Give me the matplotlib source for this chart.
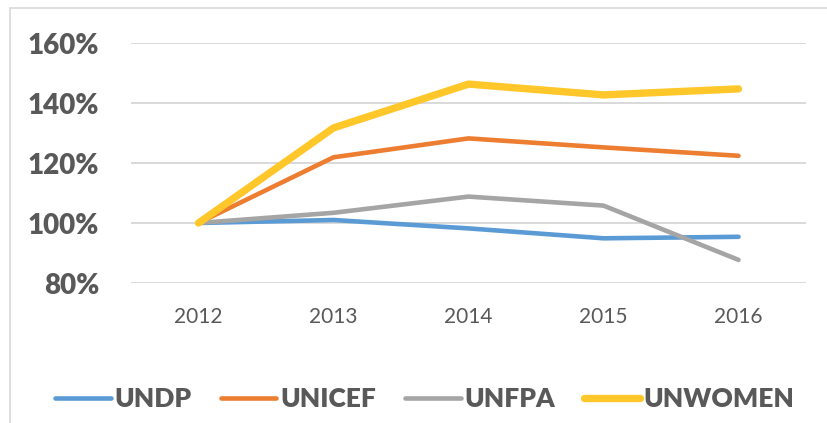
import matplotlib.pyplot as plt
from matplotlib.patches import Rectangle
from matplotlib.ticker import FuncFormatter

# Data (percent of 2012 level)
years = ['2012', '2013', '2014', '2015', '2016']
undp = [100, 101.0, 98.2, 94.9, 95.4]
unicef = [100, 121.9, 128.2, 125.2, 122.4]
unfpa = [100, 103.4, 108.8, 105.8, 87.7]
unwomen = [100, 131.7, 146.3, 142.7, 144.7]

series = [
    ('UNDP', undp, '#5b9bd5', 3.3),
    ('UNICEF', unicef, '#ed7d31', 3.3),
    ('UNFPA', unfpa, '#a5a5a5', 3.3),
    ('UNWOMEN', unwomen, '#ffc729', 5.3),
]

grey = '#595959'
W, H = 827, 423

fig = plt.figure(figsize=(W / 100, H / 100), dpi=100)
ax = fig.add_axes([131 / W, (H - 283) / H, (806 - 131) / W, (283 - 43) / H])

x = list(range(len(years)))
for name, vals, color, lw in series:
    ax.plot(x, vals, color=color, lw=lw, solid_capstyle='round',
            solid_joinstyle='round', label=name, zorder=3)

ax.set_xlim(-0.5, len(years) - 0.5)
ax.set_ylim(80, 160)
ax.set_yticks([80, 100, 120, 140, 160])
ax.yaxis.set_major_formatter(FuncFormatter(lambda v, p: f'{v:.0f}%'))
ax.set_xticks(x)
ax.set_xticklabels(years)

ax.grid(axis='y', color='#d9d9d9', lw=1.4, zorder=0)
for s in ax.spines.values():
    s.set_visible(False)
ax.tick_params(length=0)
ax.tick_params(axis='y', pad=23)
ax.tick_params(axis='x', pad=17)

for lab in ax.get_yticklabels():
    lab.set_family('Lato')
    lab.set_fontweight('heavy')
    lab.set_fontsize(20)
    lab.set_color(grey)
for lab in ax.get_xticklabels():
    lab.set_family('Lato')
    lab.set_fontsize(15)
    lab.set_color(grey)

leg = fig.legend(loc='center', bbox_to_anchor=(425 / W, (H - 399) / H), ncol=4,
                 frameon=False, handlelength=2.1, handletextpad=0.15,
                 columnspacing=1.1,
                 prop={'family': 'Lato', 'weight': 'heavy', 'size': 19})
for t in leg.get_texts():
    t.set_color(grey)

# light chart-area border
fig.patches.append(Rectangle((10 / W, -0.1), 1.2, (H - 8) / H + 0.1,
                             transform=fig.transFigure, fill=False,
                             edgecolor='#d9d9d9', lw=1.2))

fig.savefig('out.png', dpi=100)
